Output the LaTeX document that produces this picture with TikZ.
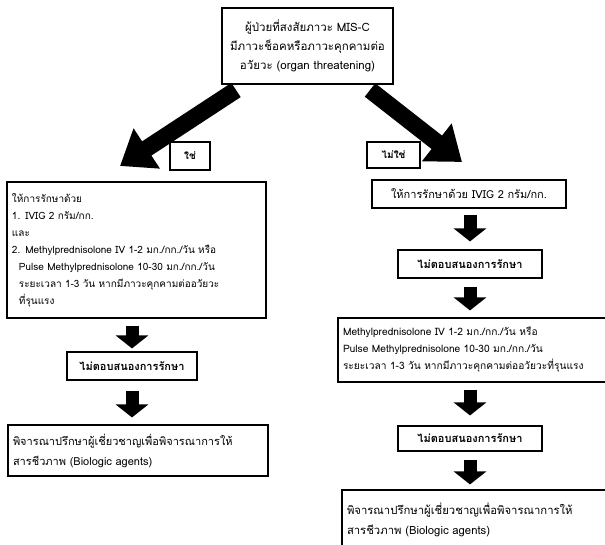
\documentclass[tikz,border=0pt]{standalone}
\usepackage{fontspec}
\setmainfont[Script=Thai]{Loma}
\usetikzlibrary{arrows.meta}
\tikzset{
  box/.style={draw, line width=1.1pt, inner xsep=6pt, inner ysep=0pt},
  lbox/.style={box, align=left},
  cbox/.style={box, align=center},
  bbox/.style={box, align=center, inner xsep=0pt, font=\fontsize{11}{16}\selectfont\bfseries},
  blk/.style={line width=13pt, -{Triangle[width=32pt,length=13pt]}},
  bigblk/.style={line width=17pt, -{Triangle[width=46pt,length=32pt]}},
}
\begin{document}
\begin{tikzpicture}[x=1pt,y=-1pt]
\useasboundingbox (0,0) rectangle (605,544);
% top
\node[cbox, minimum width=171pt, minimum height=76pt, text width=165pt, inner xsep=3pt,
      font=\fontsize{11.5}{19}\selectfont] (top) at (307.5,46)
  {ผู้ป่วยที่สงสัยภาวะ MIS-C\\มีภาวะช็อคหรือภาวะคุกคามต่อ\\อวัยวะ (organ threatening)};
\node[bbox, minimum width=40pt, minimum height=28pt, font=\fontsize{10}{14}\selectfont\bfseries] (yes) at (190,156) {ใช่};
\node[bbox, minimum width=53pt, minimum height=26pt, font=\fontsize{10}{14}\selectfont\bfseries] (no) at (393.5,155) {ไม่ใช่};
\coordinate (ltail) at (236,90);
\coordinate (ltip) at (120,166);
\coordinate (rtail) at (370,90);
\coordinate (rtip) at (462,162);
\draw[bigblk] (ltail) -- (ltip);
\draw[bigblk] (rtail) -- (rtip);
% left column
\node[lbox, minimum width=259pt, minimum height=136pt, text width=249pt, inner xsep=5pt,
      font=\fontsize{10}{17}\selectfont] (L1) at (136.5,250)
  {ให้การรักษาด้วย\\
   1. IVIG 2 กรัม/กก.\\
   และ\\
   2. Methylprednisolone IV 1-2 มก./กก./วัน หรือ\\
   \hspace*{7pt}Pulse Methylprednisolone 10-30 มก./กก./วัน\\
   \hspace*{7pt}ระยะเวลา 1-3 วัน หากมีภาวะคุกคามต่ออวัยวะ\\
   \hspace*{7pt}ที่รุนแรง};
\node[bbox, minimum width=130pt, minimum height=28pt] (LNR) at (132,366) {ไม่ตอบสนองการรักษา};
\node[lbox, minimum width=260pt, minimum height=51pt, text width=250pt, inner xsep=5pt,
      font=\fontsize{11}{20}\selectfont] (L3) at (138,450.5)
  {พิจารณาปรึกษาผู้เชี่ยวชาญเพื่อพิจารณาการให้\\สารชีวภาพ (Biologic agents)};
\draw[blk, shorten <=7pt, shorten >=3pt] (L1.south -| LNR.north) -- (LNR.north);
\draw[blk, shorten <=10pt, shorten >=7pt] (LNR.south) -- (L3.north -| LNR.south);
% right column
\node[cbox, minimum width=194pt, minimum height=28pt, text width=186pt, inner xsep=4pt,
      font=\fontsize{11}{16}\selectfont] (R1) at (469,194)
  {ให้การรักษาด้วย IVIG 2 กรัม/กก.};
\node[bbox, minimum width=144pt, minimum height=28pt] (RNR1) at (470,264) {ไม่ตอบสนองการรักษา};
\node[lbox, minimum width=270pt, minimum height=64pt, text width=260pt, inner xsep=5pt,
      font=\fontsize{10.2}{17}\selectfont] (R2) at (473,350)
  {Methylprednisolone IV 1-2 มก./กก./วัน หรือ\\
   Pulse Methylprednisolone 10-30 มก./กก./วัน\\
   ระยะเวลา 1-3 วัน หากมีภาวะคุกคามต่ออวัยวะที่รุนแรง};
\node[bbox, minimum width=144pt, minimum height=25pt] (RNR2) at (470,438.5) {ไม่ตอบสนองการรักษา};
\node[lbox, minimum width=266pt, minimum height=60pt, text width=256pt, inner xsep=5pt,
      font=\fontsize{11.3}{20}\selectfont] (R3) at (475,520)
  {พิจารณาปรึกษาผู้เชี่ยวชาญเพื่อพิจารณาการให้\\สารชีวภาพ (Biologic agents)};
\draw[blk, shorten <=6pt, shorten >=8pt] (R1.south -| RNR1.north) -- (RNR1.north);
\draw[blk, shorten <=8pt, shorten >=7pt] (RNR1.south) -- (R2.north -| RNR1.south);
\draw[blk, shorten <=7pt, shorten >=10pt] (R2.south -| RNR2.north) -- (RNR2.north);
\draw[blk, shorten <=8pt, shorten >=5pt] (RNR2.south) -- (R3.north -| RNR2.south);
\end{tikzpicture}
\end{document}
